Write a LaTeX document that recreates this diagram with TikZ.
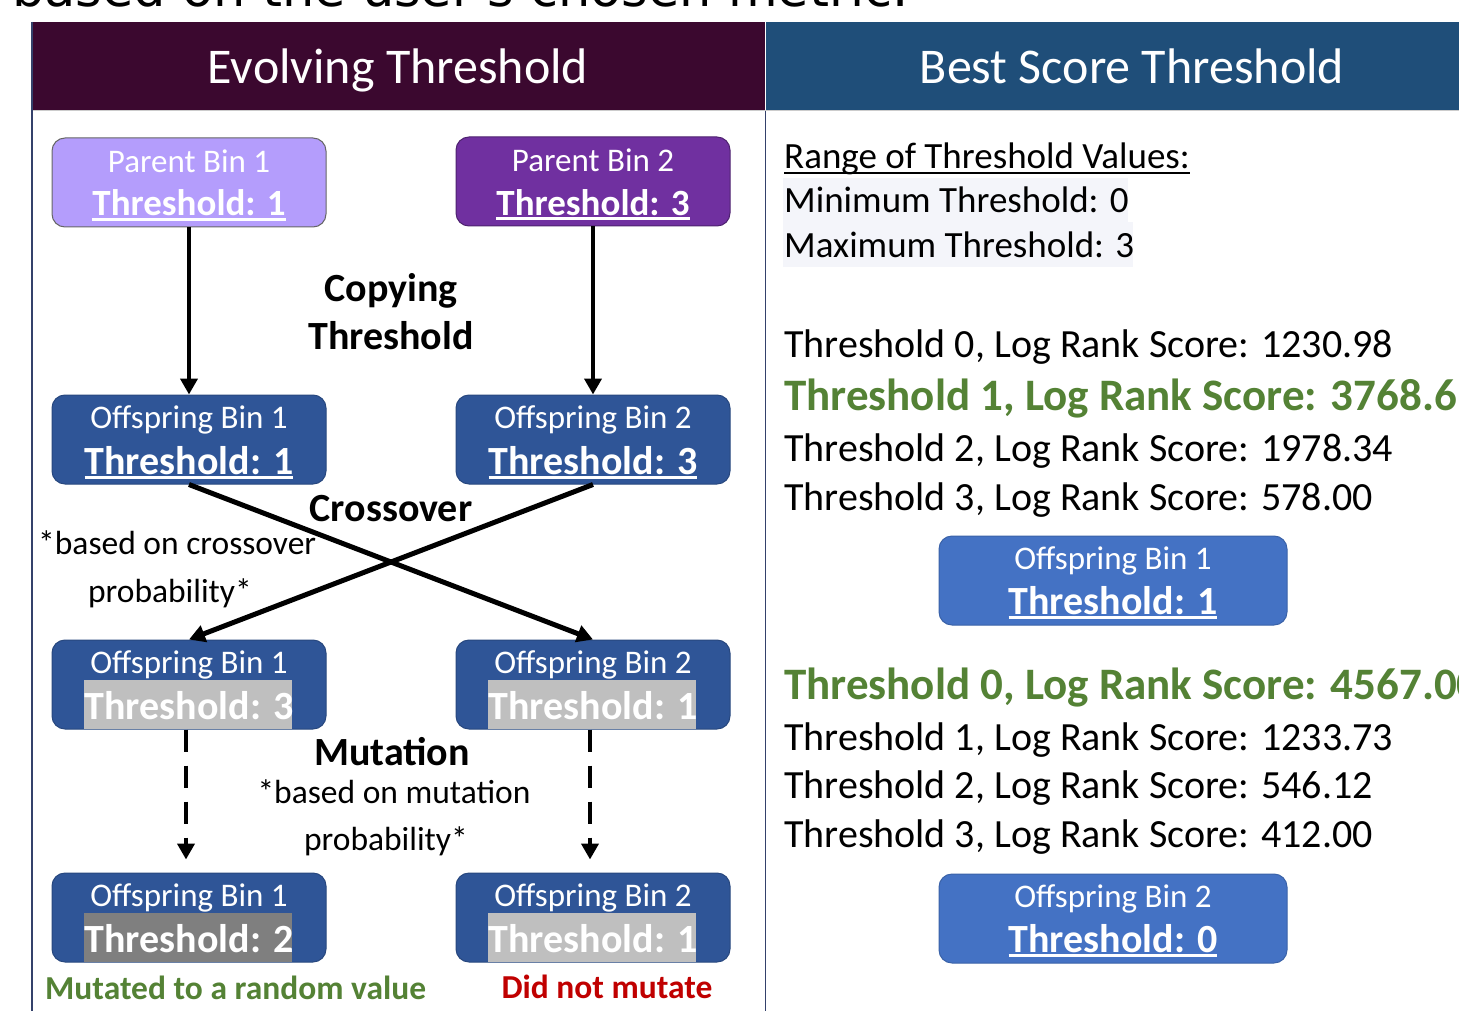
\documentclass[tikz,border=0pt]{standalone}
\usepackage{fontspec}
\setmainfont{Carlito}
\newfontfamily\dejavu{DejaVu Sans}
\usetikzlibrary{arrows.meta}
\newcommand\fsz[1]{\fontsize{#1}{#1}\selectfont}
\newcommand\myul[3]{\leavevmode\setbox0=\hbox{#1}\rlap{\raisebox{-#2}{\rule{\wd0}{#3}}}\box0}
\newcommand\thrul[1]{\myul{#1}{5pt}{2.6pt}}
\newcommand\rngul[1]{\myul{#1}{5.5pt}{2pt}}
\definecolor{hdrL}{HTML}{3B082F}
\definecolor{hdrR}{HTML}{1F4E79}
\definecolor{lav}{HTML}{B49DFC}
\definecolor{purp}{HTML}{7030A0}
\definecolor{offb}{HTML}{2F5597}
\definecolor{offbd}{HTML}{28487F}
\definecolor{rbox}{HTML}{4472C4}
\definecolor{rboxd}{HTML}{3A62A8}
\definecolor{hlite}{HTML}{BFBFBF}
\definecolor{hdark}{HTML}{7F7F7F}
\definecolor{grn}{HTML}{548235}
\definecolor{redc}{HTML}{C00000}
\definecolor{panel}{HTML}{34416B}
\definecolor{lightbg}{HTML}{F4F5FA}
\tikzset{
  bin/.style={rounded corners=13pt, minimum width=274pt, minimum height=89pt, inner sep=0pt, line width=1pt},
  pbinA/.style={bin, fill=lav, draw=gray!80!black},
  pbinB/.style={bin, fill=purp, draw=purp!70!black},
  obin/.style={bin, fill=offb, draw=offbd},
  rbin/.style={bin, minimum width=348pt, fill=rbox, draw=rboxd},
  lbl/.style={anchor=base, inner sep=0pt, text=white},
  binl1/.style={lbl, font=\fsz{33}},
  binl2/.style={lbl, font=\fsz{40}\bfseries},
  binlp/.style={lbl, font=\fsz{37}\bfseries},
  txt/.style={anchor=base, inner sep=0pt},
  btxt/.style={txt, font=\fsz{40}\bfseries},
  ntxt/.style={txt, font=\fsz{33.5}},
  rtxt/.style={anchor=base west, inner sep=0pt, font=\fsz{40}},
  gtxt/.style={anchor=base west, inner sep=0pt, font=\fsz{45}\bfseries, text=grn},
  arr/.style={line width=4.5pt, -{Triangle[length=16pt,width=17pt]}},
  darr/.style={arr, dash pattern=on 22pt off 14pt},
  xarr/.style={line width=5pt, -{Triangle[length=16pt,width=17pt]}},
}
\begin{document}
\begin{tikzpicture}[x=1pt,y=-1pt]
\useasboundingbox (0,0) rectangle (1459,1011);
\clip (0,0) rectangle (1459,1011);
\fill[white] (0,0) rectangle (1459,1011);

% cut-off caption at top
\node[anchor=base west, inner sep=0pt, font=\dejavu\fsz{51}] (cap) at (12,7) {based on the user's chosen metric.};

% headers
\fill[hdrL] (32,22) rectangle (765,110);
\fill[hdrR] (766,22) rectangle (1459,110);
\node[lbl, font=\fsz{50}] (hl) at (398,84) {Evolving Threshold};
\node[lbl, font=\fsz{50}] (hr) at (1132,84) {Best Score Threshold};
\draw[panel, line width=1.5pt] (32,22) -- (32,1011);
\draw[panel, line width=1.2pt] (765.5,110) -- (765.5,1011);
\draw[gray!40, line width=1pt] (33,110.5) -- (1459,110.5);

% parent bins
\node[pbinA] (p1) at (189,182.5) {};
\node[binl1] (p1a) at (189,172.5) {Parent Bin 1};
\node[binlp] (p1b) at (189,216) {\thrul{Threshold: 1}};
\node[pbinB] (p2) at (593,181.5) {};
\node[binl1] (p2a) at (593,171.5) {Parent Bin 2};
\node[binlp] (p2b) at (593,215) {\thrul{Threshold: 3}};

% offspring after copying
\node[obin] (o1) at (189,439.5) {};
\node[binl1] (o1a) at (189,428) {Offspring Bin 1};
\node[binl2] (o1b) at (189,474) {\thrul{Threshold: 1}};
\node[obin] (o2) at (593,439.5) {};
\node[binl1] (o2a) at (593,428) {Offspring Bin 2};
\node[binl2] (o2b) at (593,474) {\thrul{Threshold: 3}};

% offspring after crossover
\node[obin] (c1) at (189,684.5) {};
\fill[hlite] (84,680) rectangle (292,729);
\node[binl1] (c1a) at (189,673) {Offspring Bin 1};
\node[binl2] (c1b) at (189,719) {Threshold: 3};
\node[obin] (c2) at (593,684.5) {};
\fill[hlite] (488,680) rectangle (696,729);
\node[binl1] (c2a) at (593,673) {Offspring Bin 2};
\node[binl2] (c2b) at (593,719) {Threshold: 1};

% offspring after mutation
\node[obin] (m1) at (189,917.5) {};
\fill[hdark] (84,913) rectangle (292,962);
\node[binl1] (m1a) at (189,906) {Offspring Bin 1};
\node[binl2] (m1b) at (189,952) {Threshold: 2};
\node[obin] (m2) at (593,917.5) {};
\fill[hlite] (488,913) rectangle (696,962);
\node[binl1] (m2a) at (593,906) {Offspring Bin 2};
\node[binl2] (m2b) at (593,952) {Threshold: 1};

% connectors
\draw[arr] (p1) -- (o1);
\draw[arr] (p2) -- (o2);
\draw[xarr] (o1.south) -- (c2.north);
\draw[xarr] (o2.south) -- (c1.north);
\draw[darr, shorten >=13pt] ([xshift=-3pt]c1.south) -- ([xshift=-3pt]m1.north);
\draw[darr, shorten >=13pt] ([xshift=-3pt]c2.south) -- ([xshift=-3pt]m2.north);

% left labels
\node[btxt] (cp1) at (391,301) {Copying};
\node[btxt] (cp2) at (391,349) {Threshold};
\node[btxt] (cx) at (391,521) {Crossover};
\node[ntxt, anchor=base west] (cxn1) at (38,554) {*based on crossover};
\node[ntxt] (cxn2) at (170,602) {probability*};
\node[btxt] (mu) at (392,765) {Mutation};
\node[ntxt] (mun1) at (394,803) {*based on mutation};
\node[ntxt] (mun2) at (386,850) {probability*};
\node[ntxt, anchor=base west, font=\fsz{33.5}\bfseries, text=grn] (gr) at (45,999) {Mutated to a random value};
\node[ntxt, font=\fsz{33.5}\bfseries, text=redc] (rd) at (607,998) {Did not mutate};

% right panel
\fill[lightbg] (783,178) rectangle (1128,222);
\fill[lightbg] (783,222) rectangle (1133,267);
\node[rtxt, font=\fsz{37}] (rng) at (784,169) {\rngul{Range of Threshold Values:}};
\node[rtxt, font=\fsz{37}] (mn) at (784,213) {Minimum Threshold: 0};
\node[rtxt, font=\fsz{37}] (mx) at (784,257) {Maximum Threshold: 3};

\node[rtxt] (s1) at (784,357) {Threshold 0, Log Rank Score: 1230.98};
\node[gtxt] (s2) at (784,410) {Threshold 1, Log Rank Score: 3768.61};
\node[rtxt] (s3) at (784,461) {Threshold 2, Log Rank Score: 1978.34};
\node[rtxt] (s4) at (784,510) {Threshold 3, Log Rank Score: 578.00};

\node[rbin] (r1) at (1113,580.5) {};
\node[binl1] (r1a) at (1113,569) {Offspring Bin 1};
\node[binl2] (r1b) at (1113,614) {\thrul{Threshold: 1}};

\node[gtxt] (t1) at (784,699) {Threshold 0, Log Rank Score: 4567.00};
\node[rtxt] (t2) at (784,750) {Threshold 1, Log Rank Score: 1233.73};
\node[rtxt] (t3) at (784,798) {Threshold 2, Log Rank Score: 546.12};
\node[rtxt] (t4) at (784,847) {Threshold 3, Log Rank Score: 412.00};

\node[rbin] (r2) at (1113,918.5) {};
\node[binl1] (r2a) at (1113,907) {Offspring Bin 2};
\node[binl2] (r2b) at (1113,952) {\thrul{Threshold: 0}};
\end{tikzpicture}
\end{document}
